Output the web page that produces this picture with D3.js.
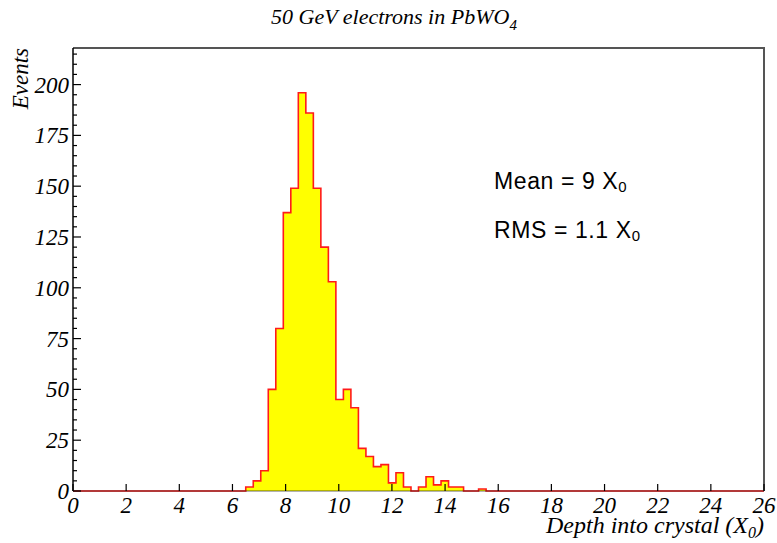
<!DOCTYPE html>
<html>
<head>
<meta charset="utf-8">
<script src="https://cdn.jsdelivr.net/npm/d3@7"></script>
<style>
    body { margin: 0; background: #fff; }
    .serif { font-family: "Liberation Serif", "DejaVu Serif", serif; font-style: italic; }
    .sans { font-family: "Liberation Sans", Arial, sans-serif; }
</style>
</head>
<body>
<div id="chart"></div>
<script>
// histogram: 92 bins from 0 to 26 X0
const binLow = 0;
const binHigh = 26;
const counts = [
    0, 0, 0, 0, 0, 0, 0, 0, 0, 0,
    0, 0, 0, 0, 0, 0, 0, 0, 0, 0,
    0, 0, 0, 2, 5, 10, 50, 80, 137, 149,
    196, 186, 149, 120, 103, 45, 50, 41, 21, 17,
    12, 13, 4, 9, 2, 0, 2, 7, 3, 5,
    2, 2, 0, 0, 1, 0, 0, 0, 0, 0,
    0, 0, 0, 0, 0, 0, 0, 0, 0, 0,
    0, 0, 0, 0, 0, 0, 0, 0, 0, 0,
    0, 0, 0, 0, 0, 0, 0, 0, 0, 0,
    0, 0
];
const xTicks = [0, 2, 4, 6, 8, 10, 12, 14, 16, 18, 20, 22, 24, 26];
const yTicks = [0, 25, 50, 75, 100, 125, 150, 175, 200];
const yMinorTicks = d3.range(0, 216, 5);
const yMax = 218;

const width = 777;
const height = 543;
const margin = { top: 48, right: 13, bottom: 52, left: 73 };

const svg = d3.select('#chart').append('svg')
    .attr('width', width)
    .attr('height', height);

const xScale = d3.scaleLinear()
    .domain([binLow, binHigh])
    .range([margin.left, width - margin.right]);

const yScale = d3.scaleLinear()
    .domain([0, yMax])
    .range([height - margin.bottom, margin.top]);

const binWidth = (binHigh - binLow) / counts.length;
const steps = counts.map((c, i) => ({ x: binLow + i * binWidth, y: c }));
steps.push({ x: binHigh, y: counts[counts.length - 1] });

const area = d3.area()
    .curve(d3.curveStepAfter)
    .x(d => xScale(d.x))
    .y0(yScale(0))
    .y1(d => yScale(d.y));

const line = d3.line()
    .curve(d3.curveStepAfter)
    .x(d => xScale(d.x))
    .y(d => yScale(d.y));

svg.append('path')
    .datum(steps)
    .attr('d', area)
    .attr('fill', '#ffff00');

svg.append('path')
    .datum(steps)
    .attr('d', line)
    .attr('fill', 'none')
    .attr('stroke', '#ff1a1a')
    .attr('stroke-width', 1.6);

// frame (top and right)
const x0 = xScale(binLow), x1 = xScale(binHigh);
const y0 = yScale(0), y1 = yScale(yMax);
svg.append('path')
    .attr('d', `M${x0},${y1}H${x1}V${y0}`)
    .attr('fill', 'none')
    .attr('stroke', '#555')
    .attr('stroke-width', 2);

// bottom axis
svg.append('line')
    .attr('x1', x0).attr('x2', x1)
    .attr('y1', y0).attr('y2', y0)
    .attr('stroke', '#000')
    .attr('stroke-opacity', 0.6)
    .attr('stroke-width', 1.2);

svg.append('g')
    .selectAll('line')
    .data(xTicks)
    .enter()
    .append('line')
    .attr('x1', d => xScale(d)).attr('x2', d => xScale(d))
    .attr('y1', y0).attr('y2', y0 - 7)
    .attr('stroke', '#000')
    .attr('stroke-width', 1.2);

svg.append('g')
    .selectAll('text')
    .data(xTicks)
    .enter()
    .append('text')
    .attr('class', 'serif')
    .attr('x', d => xScale(d))
    .attr('y', y0 + 22)
    .attr('text-anchor', 'middle')
    .attr('font-size', 23)
    .text(d => d);

// left axis
svg.append('line')
    .attr('x1', x0).attr('x2', x0)
    .attr('y1', y0).attr('y2', y1)
    .attr('stroke', '#000')
    .attr('stroke-width', 1.5);

svg.append('g')
    .selectAll('line')
    .data(yMinorTicks)
    .enter()
    .append('line')
    .attr('x1', x0)
    .attr('x2', d => x0 + (d % 25 === 0 ? 8 : 4))
    .attr('y1', d => yScale(d)).attr('y2', d => yScale(d))
    .attr('stroke', '#000')
    .attr('stroke-width', 1.2);

svg.append('g')
    .selectAll('text')
    .data(yTicks)
    .enter()
    .append('text')
    .attr('class', 'serif')
    .attr('x', x0 - 4)
    .attr('y', d => yScale(d) + 8)
    .attr('text-anchor', 'end')
    .attr('font-size', 23)
    .text(d => d);

// titles
const title = svg.append('text')
    .attr('class', 'serif')
    .attr('x', 394)
    .attr('y', 24)
    .attr('text-anchor', 'middle')
    .attr('font-size', 22);
title.append('tspan').text('50 GeV electrons in PbWO');
title.append('tspan').attr('font-size', 15).attr('dy', 6).text('4');

svg.append('text')
    .attr('class', 'serif')
    .attr('transform', `translate(28, ${y1}) rotate(-90)`)
    .attr('text-anchor', 'end')
    .attr('font-size', 23)
    .text('Events');

const xLabel = svg.append('text')
    .attr('class', 'serif')
    .attr('x', x1)
    .attr('y', 533)
    .attr('text-anchor', 'end')
    .attr('font-size', 24);
xLabel.append('tspan').text('Depth into crystal (X');
xLabel.append('tspan').attr('font-size', 16).attr('dy', 5).text('0');
xLabel.append('tspan').attr('dy', -5).text(')');

// statistics
const stats = [['Mean = 9 X', 189], ['RMS = 1.1 X', 238]];
stats.forEach(([label, yPos]) => {
    const t = svg.append('text')
        .attr('class', 'sans')
        .attr('x', 494)
        .attr('y', yPos)
        .attr('font-size', 23)
        .attr('letter-spacing', 0.6);
    t.append('tspan').text(label);
    t.append('tspan').attr('font-size', 15).attr('dy', 3).text('0');
});
</script>
</body>
</html>
